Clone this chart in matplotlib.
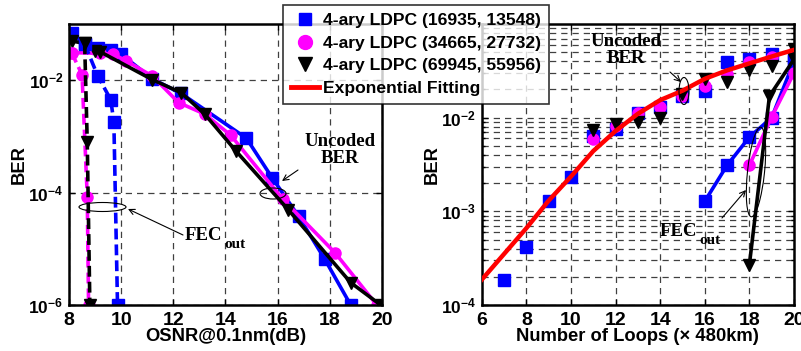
import numpy as np
import matplotlib
matplotlib.use("Agg")
import matplotlib.pyplot as plt
from matplotlib.lines import Line2D
from matplotlib.patches import Ellipse

plt.rcParams['font.family'] = ['Liberation Sans', 'DejaVu Sans']
plt.rcParams['font.weight'] = 'bold'
plt.rcParams['mathtext.fontset'] = 'custom'
plt.rcParams['mathtext.bf'] = 'Liberation Sans:bold'
plt.rcParams['mathtext.rm'] = 'Liberation Sans:bold'

# ---- left panel: BER vs OSNR ----
# uncoded (solid)
osnr_blue = [8.1, 8.6, 9.1, 9.6, 10.0, 11.2, 12.3, 14.8, 15.8, 16.8, 17.8, 18.8]
ber_blue = [0.068, 0.044, 0.038, 0.035, 0.029, 0.0105, 0.0058, 9.3e-4, 1.8e-4, 3.8e-5, 6.6e-6, 1e-6]
osnr_mag = [8.1, 9.2, 9.7, 10.2, 11.2, 12.2, 13.2, 14.2, 16.2, 18.2, 19.8]
ber_mag = [0.031, 0.03, 0.029, 0.022, 0.0118, 0.004, 0.0025, 0.00105, 7.6e-5, 8.5e-6, 1e-6]
osnr_blk = [8.1, 8.6, 9.0, 9.2, 11.2, 12.3, 13.2, 14.4, 16.4, 18.8, 19.95]
ber_blk = [0.05, 0.045, 0.033, 0.032, 0.0102, 0.006, 0.0025, 5.5e-4, 5e-5, 2.5e-6, 1e-6]
# coded, FEC out (dashed)
osnr_blue_fec = [8.6, 9.1, 9.6, 9.72, 9.86]
ber_blue_fec = [0.044, 0.012, 0.0045, 0.0018, 1e-6]
osnr_mag_fec = [8.1, 8.5, 8.7, 8.75]
ber_mag_fec = [0.031, 0.0125, 8.5e-5, 1e-6]
osnr_blk_fec = [8.6, 8.7, 8.8]
ber_blk_fec = [0.045, 7.8e-4, 1e-6]

# ---- right panel: BER vs number of loops ----
loops = [7, 8, 9, 10, 11, 12, 13, 14, 15, 16, 17, 18, 19, 20]
ber_blue_unc = [1.85e-4, 4.2e-4, 1.3e-3, 2.3e-3, 6.3e-3, 7.5e-3, 0.0113, 0.013, 0.017, 0.0194, 0.039, 0.042, 0.048, 0.043]
loops_b = [11, 12, 13, 14, 15, 16, 17, 18, 19, 20]
ber_mag_unc = [5.9e-3, 8.1e-3, 0.0113, 0.013, 0.017, 0.022, 0.029, 0.039, 0.044, 0.05]
ber_blk_unc = [7.4e-3, 8.5e-3, 8.9e-3, 0.01, 0.0178, 0.026, 0.024, 0.032, 0.036, 0.054]
loops_fit = [6, 7, 8, 9, 10, 11, 12, 13, 14, 15, 16, 17, 18, 19, 20]
ber_fit = [1.86e-4, 3.5e-4, 6.6e-4, 1.3e-3, 2.35e-3, 4.4e-3, 7.2e-3, 0.011, 0.0154, 0.0194, 0.026, 0.032, 0.038, 0.045, 0.053]
loops_blue_fec = [16, 17, 18, 19, 20]
ber_blue_fec_r = [1.28e-3, 3.1e-3, 6.2e-3, 1e-2, 0.04]
loops_mag_fec = [18, 19, 20]
ber_mag_fec_r = [3.1e-3, 0.0102, 0.03]
loops_blk_fec = [18, 18.9, 20]
ber_blk_fec_r = [2.7e-4, 0.017, 0.042]

legend_labels = ['4-ary LDPC (16935, 13548)', '4-ary LDPC (34665, 27732)',
                 '4-ary LDPC (69945, 55956)', 'Exponential Fitting']

W, H = 801, 351
fig = plt.figure(figsize=(W / 100, H / 100), dpi=100)
ax1 = fig.add_axes([69 / W, 1 - 305 / H, (382 - 69) / W, (305 - 24) / H])
ax2 = fig.add_axes([481.7 / W, 1 - 305 / H, (794 - 481.7) / W, (305 - 24) / H])

BLUE, MAG, BLK, RED = '#0000ff', '#ff00ff', '#000000', '#ff0000'
dash = (0, (3, 1.4))

# left panel
ax1.semilogy(osnr_blue, ber_blue, '-s', color=BLUE, lw=2.6, ms=8)
ax1.semilogy(osnr_mag, ber_mag, '-o', color=MAG, lw=2.6, ms=8)
ax1.semilogy(osnr_blk, ber_blk, '-v', color=BLK, lw=2.6, ms=9)
ax1.semilogy(osnr_blue_fec, ber_blue_fec, marker='s', ls=dash, color=BLUE, lw=2.6, ms=8)
ax1.semilogy(osnr_mag_fec, ber_mag_fec, marker='o', ls=dash, color=MAG, lw=2.6, ms=8)
ax1.semilogy(osnr_blk_fec, ber_blk_fec, marker='v', ls=dash, color=BLK, lw=2.6, ms=9)

ax1.set_xlim(8, 20)
ax1.set_ylim(1e-6, 1e-1)
ax1.set_xticks(range(8, 21, 2))
ax1.set_yticks([1e-6, 1e-4, 1e-2])
ax1.set_yticklabels([r'$\mathbf{10^{-6}}$', r'$\mathbf{10^{-4}}$', r'$\mathbf{10^{-2}}$'])
ax1.minorticks_off()
ax1.grid(True, which='major', ls=(0, (5, 4)), color='#404040', lw=0.9)
ax1.set_xlabel('OSNR@0.1nm(dB)', fontsize=13.2, fontweight='bold', labelpad=-1)
ax1.set_ylabel('BER', fontsize=13.2, fontweight='bold', labelpad=0)

# right panel
ax2.semilogy(loops_fit, ber_fit, '-', color=RED, lw=3.2, zorder=3)
ax2.semilogy(loops, ber_blue_unc, 's', color=BLUE, ms=8, ls='none')
ax2.semilogy(loops_b, ber_mag_unc, 'o', color=MAG, ms=8, ls='none')
ax2.semilogy(loops_b, ber_blk_unc, 'v', color=BLK, ms=9, ls='none')
ax2.semilogy(loops_blue_fec, ber_blue_fec_r, '-s', color=BLUE, lw=2.6, ms=8)
ax2.semilogy(loops_mag_fec, ber_mag_fec_r, '-o', color=MAG, lw=2.6, ms=8)
ax2.semilogy(loops_blk_fec, ber_blk_fec_r, '-v', color=BLK, lw=2.6, ms=9)

ax2.set_xlim(6, 20)
ax2.set_ylim(1e-4, 1e-1)
ax2.set_xticks(range(6, 21, 2))
ax2.set_yticks([1e-4, 1e-3, 1e-2])
ax2.set_yticklabels([r'$\mathbf{10^{-4}}$', r'$\mathbf{10^{-3}}$', r'$\mathbf{10^{-2}}$'])
ax2.grid(True, which='both', axis='y', ls=(0, (5, 4)), color='#404040', lw=0.9)
ax2.grid(True, which='major', axis='x', ls=(0, (5, 4)), color='#404040', lw=0.9)
ax2.set_xlabel('Number of Loops (\u00d7 480km)', fontsize=13.2, fontweight='bold', labelpad=-1)
ax2.set_ylabel('BER', fontsize=13.2, fontweight='bold', labelpad=0)

for ax in (ax1, ax2):
    for s in ax.spines.values():
        s.set_linewidth(1.8)
    ax.tick_params(which='both', direction='in', width=1, length=4,
                   top=True, right=True, pad=5)
    ax.tick_params(axis='x', labelsize=14)
    ax.tick_params(axis='y', labelsize=12.5, pad=4)
    ax.tick_params(which='minor', length=2)
    for t in ax.get_xticklabels():
        t.set_fontweight('bold')
    ax.set_axisbelow(True)

# annotations (pixel helpers)
def ff(x, y):
    return (x / W, 1 - y / H)

def inch(x, y):
    return (x / 100, (H - y) / 100)

serif = dict(family=['Liberation Serif', 'DejaVu Serif'], fontweight='bold', color='black')
fig.text(*ff(340, 150), 'Uncoded\nBER', ha='center', va='center', fontsize=13.5,
         linespacing=1.05, **serif)
fig.text(*ff(626, 50), 'Uncoded\nBER', ha='center', va='center', fontsize=13.5,
         linespacing=1.05, **serif)
fig.text(*ff(185, 236), 'FEC', ha='left', va='center', fontsize=13.5, **serif)
fig.text(*ff(224, 245), 'out', ha='left', va='center', fontsize=11, **serif)
fig.text(*ff(660, 232), 'FEC', ha='left', va='center', fontsize=13.5, **serif)
fig.text(*ff(699, 241), 'out', ha='left', va='center', fontsize=11, **serif)

for cx, cy, w, h, ang in [(273, 193.5, 26, 11, 0), (102.5, 207, 47, 9, 0),
                          (684, 91, 10, 27, 0), (756, 172, 17, 90, -6)]:
    fig.add_artist(Ellipse(inch(cx, cy), w / 100, h / 100, angle=ang, fill=False,
                           ec='black', lw=0.8, transform=fig.dpi_scale_trans))

for (x0, y0), (x1, y1) in [((183, 235), (128, 209)), ((298, 170), (282, 181)),
                           ((670, 72), (681, 82)), ((722, 218), (746, 190))]:
    fig.add_artist(plt.Annotation('', xy=ff(x1, y1), xytext=ff(x0, y0), xycoords='figure fraction',
                                  textcoords='figure fraction',
                                  arrowprops=dict(arrowstyle='->', lw=0.8, color='black',
                                                  shrinkA=0, shrinkB=0)))

handles = [Line2D([], [], color=BLUE, marker='s', ls='none', ms=9),
           Line2D([], [], color=MAG, marker='o', ls='none', ms=10),
           Line2D([], [], color=BLK, marker='v', ls='none', ms=10),
           Line2D([], [], color=RED, lw=3.5)]
leg = fig.legend(handles, legend_labels, loc='upper left', bbox_to_anchor=ff(283, 5),
                 prop=dict(family='Liberation Sans', weight='bold', size=12.6),
                 frameon=True, fancybox=False, borderaxespad=0, handlelength=1.6,
                 handletextpad=0.25, labelspacing=0.42, borderpad=0.45)
leg.get_frame().set_edgecolor('black')
leg.get_frame().set_linewidth(1.2)

fig.savefig('out.png', dpi=100)
